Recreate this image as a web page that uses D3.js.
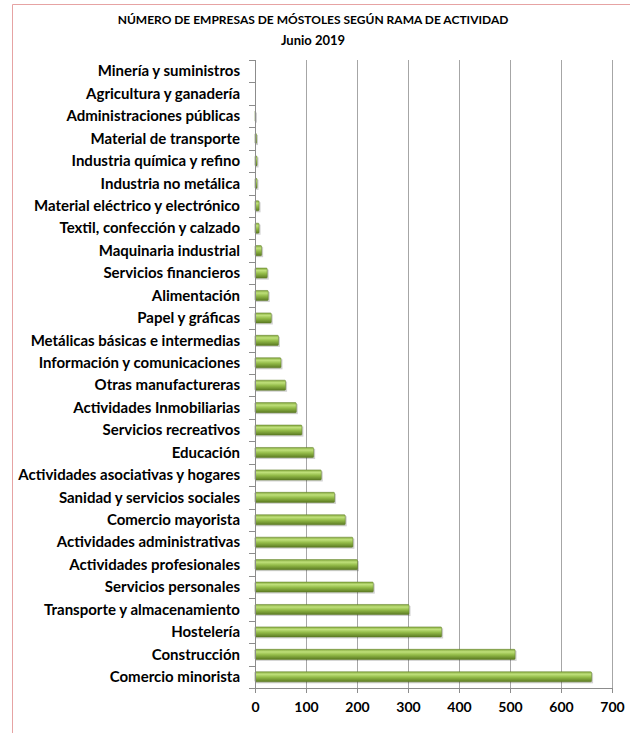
<!DOCTYPE html>
<html>
<head>
<meta charset="utf-8">
<script src="https://cdn.jsdelivr.net/npm/d3@7"></script>
<style>
  body { margin: 0; background: #fff; }
  text { font-family: Lato, "Liberation Sans", sans-serif; font-weight: bold; fill: #000; }
</style>
</head>
<body>
<div id="chart"></div>
<script>
// categories, top to bottom
var categories = [
  "Minería y suministros", "Agricultura y ganadería", "Administraciones públicas",
  "Material de transporte", "Industria química y refino", "Industria no metálica",
  "Material eléctrico y electrónico", "Textil, confección y calzado", "Maquinaria industrial",
  "Servicios financieros", "Alimentación", "Papel y gráficas",
  "Metálicas básicas e intermedias", "Información y comunicaciones", "Otras manufactureras",
  "Actividades Inmobiliarias", "Servicios recreativos", "Educación",
  "Actividades asociativas y hogares", "Sanidad y servicios sociales", "Comercio mayorista",
  "Actividades administrativas", "Actividades profesionales", "Servicios personales",
  "Transporte y almacenamiento", "Hostelería", "Construcción", "Comercio minorista"
];
// number of companies
var empresas = [
  0, 0, 1,
  3, 4, 4,
  8, 8, 13,
  24, 26, 32,
  46, 51, 60,
  81, 92, 115,
  130, 156, 177,
  192, 201, 232,
  302, 366, 510, 660
];
var xTicks = [0, 100, 200, 300, 400, 500, 600, 700];

var W = 630, H = 733,
    margin = {top: 60, right: 18, bottom: 45, left: 255},
    width = 612 - margin.left,
    height = 688 - margin.top;

var svg = d3.select("#chart").append("svg")
    .attr("width", W)
    .attr("height", H);

// pink frame
svg.append("path")
    .attr("d", "M12.5," + H + " V4.5 H" + W)
    .attr("fill", "none")
    .attr("stroke", "#e6a3a3")
    .attr("stroke-width", 1);

// bar gradient (cylinder look)
var defs = svg.append("defs");
var grad = defs.append("linearGradient")
    .attr("id", "barGrad")
    .attr("x1", 0).attr("y1", 0).attr("x2", 0).attr("y2", 1);
grad.append("stop").attr("offset", "0%").attr("stop-color", "#84a83e");
grad.append("stop").attr("offset", "25%").attr("stop-color", "#bfe07a");
grad.append("stop").attr("offset", "55%").attr("stop-color", "#93bb48");
grad.append("stop").attr("offset", "100%").attr("stop-color", "#5b7a22");

// titles
svg.append("text")
    .attr("x", 313).attr("y", 24)
    .attr("text-anchor", "middle")
    .style("font-size", "12px")
    .text("NÚMERO DE EMPRESAS DE MÓSTOLES SEGÚN RAMA DE ACTIVIDAD");
svg.append("text")
    .attr("x", 313).attr("y", 45)
    .attr("text-anchor", "middle")
    .style("font-size", "13px")
    .text("Junio 2019");

var g = svg.append("g")
    .attr("transform", "translate(" + margin.left + "," + margin.top + ")");

var xScale = d3.scaleLinear().domain([0, 700]).range([0, width]);
var yScale = d3.scaleBand().domain(categories).range([0, height]).paddingInner(0.55).paddingOuter(0.275);

// gridlines
g.append("g")
    .selectAll("line")
    .data(xTicks.slice(1))
  .enter().append("line")
    .attr("x1", function(d) { return Math.round(xScale(d)) + 0.5; })
    .attr("x2", function(d) { return Math.round(xScale(d)) + 0.5; })
    .attr("y1", 0)
    .attr("y2", height)
    .attr("stroke", "#a6a6a6");

// bar shadows
g.append("g")
    .selectAll("rect")
    .data(empresas)
  .enter().append("rect")
    .attr("x", 0)
    .attr("y", function(d, i) { return yScale(categories[i]) + 1.5; })
    .attr("width", function(d) { return d > 0 ? xScale(d) + 1.5 : 0; })
    .attr("height", yScale.bandwidth())
    .attr("fill", "#000")
    .attr("opacity", 0.18);

// bars
g.append("g")
    .selectAll("rect")
    .data(empresas)
  .enter().append("rect")
    .attr("x", 0)
    .attr("y", function(d, i) { return yScale(categories[i]); })
    .attr("width", function(d) { return xScale(d); })
    .attr("height", yScale.bandwidth())
    .attr("rx", 1)
    .attr("fill", "url(#barGrad)")
    .attr("stroke", "#5f7d25")
    .attr("stroke-width", 0.5);

// x axis
var xAxis = d3.axisBottom(xScale).tickValues(xTicks).tickSize(5).tickPadding(9);
var gx = g.append("g")
    .attr("transform", "translate(0," + height + ")")
    .call(xAxis);
gx.select(".domain").attr("stroke", "#8c8c8c");
gx.selectAll(".tick line").attr("stroke", "#8c8c8c");
gx.selectAll(".tick text").style("font-size", "14px").attr("font-family", null);

// y axis
var yTickPos = d3.range(categories.length + 1).map(function(i) { return i * height / categories.length; });
g.append("line")
    .attr("x1", 0.5).attr("x2", 0.5)
    .attr("y1", 0).attr("y2", height + 5)
    .attr("stroke", "#8c8c8c");
g.append("g")
    .selectAll("line")
    .data(yTickPos)
  .enter().append("line")
    .attr("x1", -6).attr("x2", 0)
    .attr("y1", function(d) { return Math.round(d) + 0.5; })
    .attr("y2", function(d) { return Math.round(d) + 0.5; })
    .attr("stroke", "#8c8c8c");

g.append("g")
    .selectAll("text")
    .data(categories)
  .enter().append("text")
    .attr("x", -15)
    .attr("y", function(d) { return yScale(d) + yScale.bandwidth() / 2; })
    .attr("dy", "0.35em")
    .attr("text-anchor", "end")
    .style("font-size", "15px")
    .text(function(d) { return d; });
</script>
</body>
</html>
